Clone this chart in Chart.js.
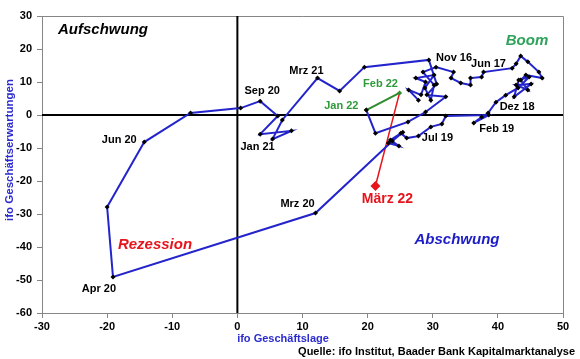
<!DOCTYPE html>
<html><head><meta charset="utf-8">
<script src="https://cdn.jsdelivr.net/npm/chart.js@4/dist/chart.umd.min.js"></script>
<style>html,body{margin:0;padding:0;background:#fff}#c{display:block}</style>
</head><body>
<canvas id="c" width="580" height="359"></canvas>
<script>
// ---- data (ifo Geschäftslage = x, ifo Geschäftserwartungen = y) ----
const months = [
 "Jan 16","Feb 16","Mrz 16","Apr 16","Mai 16","Jun 16","Jul 16","Aug 16","Sep 16","Okt 16","Nov 16","Dez 16",
 "Jan 17","Feb 17","Mrz 17","Apr 17","Mai 17","Jun 17","Jul 17","Aug 17","Sep 17","Okt 17","Nov 17","Dez 17",
 "Jan 18","Feb 18","Mrz 18","Apr 18","Mai 18","Jun 18","Jul 18","Aug 18","Sep 18","Okt 18","Nov 18","Dez 18",
 "Jan 19","Feb 19","Mrz 19","Apr 19","Mai 19","Jun 19","Jul 19","Aug 19","Sep 19","Okt 19","Nov 19","Dez 19",
 "Jan 20","Feb 20","Mrz 20","Apr 20","Mai 20","Jun 20","Jul 20","Aug 20","Sep 20","Okt 20","Nov 20","Dez 20",
 "Jan 21","Feb 21","Mrz 21","Apr 21","Mai 21","Jun 21","Jul 21","Aug 21","Sep 21","Okt 21","Nov 21","Dez 21",
 "Jan 22"
];
const lage = [
 27.8,26.3,28.2,28.9,27.4,30.2,28.8,29.7,30.2,28.5,30.5,33.2,
 32.8,34.3,35.8,35.8,37.5,37.8,42.2,42.8,43.5,44.6,46.3,46.8,
 44.3,43.5,44.6,42.8,45.1,42.5,43.2,44.8,43.1,41.2,39.7,38.5,
 37.5,36.3,38.6,32.0,31.4,29.7,27.8,26.0,25.1,23.2,24.8,23.5,
 25.4,23.8,12.0,-19.1,-20.0,-14.3,-7.2,0.5,3.5,6.2,3.5,8.3,
 5.4,6.9,12.3,15.7,19.5,29.4,30.6,29.1,32.0,28.9,26.2,21.2,
 19.8
];
const erwartungen = [
 4.5,7.6,6.1,10.0,11.2,12.1,8.2,4.5,9.1,13.0,14.5,13.0,
 11.2,9.7,9.1,11.2,11.5,13.0,14.2,15.5,17.9,16.1,13.0,11.2,
 12.1,10.6,7.6,9.1,9.4,5.5,10.6,11.5,8.2,6.0,3.9,0.6,
 -0.6,-2.4,0.0,-0.3,-2.7,-3.6,-6.4,-7.0,-5.5,-8.5,-9.4,-7.6,
 -5.2,-7.9,-29.7,-49.1,-27.9,-8.2,0.6,2.1,4.2,-0.3,-5.8,-4.8,
 -7.3,-1.5,11.2,7.3,14.5,16.7,9.4,6.1,5.5,0.9,-2.1,-5.5,
 1.5
];
const greenMonths = ["Jan 22","Feb 22"];
const greenLage = [19.8, 24.9];
const greenErw = [1.5, 6.7];
const redMonths = ["Feb 22","März 22"];
const redLage = [24.9, 21.2];
const redErw = [6.7, -21.5];
const labelledMonths = ["Nov 16","Jun 17","Dez 18","Feb 19","Jul 19","Mrz 20","Apr 20","Jun 20","Sep 20","Jan 21","Mrz 21"];
const xTicks = [-30,-20,-10,0,10,20,30,40,50];
const yTicks = [30,20,10,0,-10,-20,-30,-40,-50,-60];
const quadrantLabels = ["Aufschwung","Boom","Rezession","Abschwung"];
const xTitle = "ifo Geschäftslage";
const yTitle = "ifo Geschäftserwartungen";
const sourceText = "Quelle: ifo Institut, Baader Bank Kapitalmarktanalyse";

const FONT = '"Liberation Sans", Arial, sans-serif';
const BLUE = '#2424cc';
const GREEN_LINE = '#2e8b2e';
const GREEN_TXT = '#2f9a3a';
const RED = '#e8141c';

const toPts = (xs, ys) => xs.map((x, i) => ({x: x, y: ys[i]}));

// label placement (pixel offset from the data point)
const labelOffsets = {
  "Nov 16":[18,-9], "Jun 17":[5,-8], "Dez 18":[29,-6], "Feb 19":[23,6], "Jul 19":[19,2],
  "Mrz 20":[-18,-9], "Apr 20":[-14,12], "Jun 20":[-25,-2], "Sep 20":[2,-10], "Jan 21":[-15,8],
  "Mrz 21":[-11,-7]
};

const decorPlugin = {
  id: 'decor',
  beforeDatasetsDraw(chart) {
    const {ctx, chartArea: a, scales: {x, y}} = chart;
    ctx.save();
    // frame top/right
    ctx.strokeStyle = '#868686'; ctx.lineWidth = 1;
    ctx.beginPath();
    ctx.moveTo(a.left, a.top + 0.5); ctx.lineTo(a.right + 0.5, a.top + 0.5);
    ctx.lineTo(a.right + 0.5, a.bottom);
    ctx.stroke();
    // zero lines
    ctx.strokeStyle = '#000'; ctx.lineWidth = 2;
    const x0 = x.getPixelForValue(0), y0 = y.getPixelForValue(0);
    ctx.beginPath();
    ctx.moveTo(x0, a.top); ctx.lineTo(x0, a.bottom);
    ctx.moveTo(a.left, y0); ctx.lineTo(a.right, y0);
    ctx.stroke();
    ctx.restore();
  },
  afterDatasetsDraw(chart) {
    const {ctx} = chart;
    ctx.save();
    ctx.textAlign = 'center'; ctx.textBaseline = 'middle';
    // point labels on the blue path
    const meta = chart.getDatasetMeta(0);
    ctx.font = 'bold 11px ' + FONT; ctx.fillStyle = '#000';
    labelledMonths.forEach(m => {
      const i = months.indexOf(m);
      const el = meta.data[i];
      const o = labelOffsets[m];
      ctx.fillText(m, el.x + o[0], el.y + o[1]);
    });
    // green labels
    const gm = chart.getDatasetMeta(1);
    ctx.fillStyle = GREEN_TXT;
    ctx.fillText(greenMonths[0], gm.data[0].x - 25, gm.data[0].y - 4);
    ctx.fillText(greenMonths[1], gm.data[1].x - 19, gm.data[1].y - 9);
    // red label
    const rm = chart.getDatasetMeta(2);
    ctx.fillStyle = RED; ctx.font = 'bold 14px ' + FONT;
    ctx.fillText(redMonths[1], rm.data[1].x + 12, rm.data[1].y + 13);
    // quadrant labels
    ctx.font = 'italic bold 15px ' + FONT;
    ctx.fillStyle = '#000'; ctx.fillText(quadrantLabels[0], 103, 30);
    ctx.fillStyle = '#2ea35a'; ctx.fillText(quadrantLabels[1], 527, 41);
    ctx.fillStyle = RED; ctx.fillText(quadrantLabels[2], 155, 245);
    ctx.fillStyle = '#1c1cc8'; ctx.fillText(quadrantLabels[3], 457, 240);
    // axis titles
    ctx.fillStyle = '#2b2bd0';
    ctx.font = 'bold 11px ' + FONT;
    ctx.fillText(xTitle, 283, 339);
    ctx.save();
    ctx.translate(10, 150); ctx.rotate(-Math.PI / 2);
    ctx.font = 'bold 11.5px ' + FONT;
    ctx.fillText(yTitle, 0, 0);
    ctx.restore();
    // source
    ctx.fillStyle = '#000'; ctx.font = 'bold 11px ' + FONT;
    ctx.textAlign = 'right';
    ctx.fillText(sourceText, 575, 352);
    ctx.restore();
  }
};

new Chart(document.getElementById('c'), {
  type: 'scatter',
  data: {
    datasets: [
      { data: toPts(lage, erwartungen), showLine: true, borderColor: BLUE, borderWidth: 2,
        pointStyle: 'rectRot', pointRadius: 2.5, pointBackgroundColor: '#000', pointBorderWidth: 0, tension: 0 },
      { data: toPts(greenLage, greenErw), showLine: true, borderColor: GREEN_LINE, borderWidth: 2,
        pointStyle: 'rectRot', pointRadius: 2.5, pointBackgroundColor: GREEN_LINE, pointBorderWidth: 0, tension: 0 },
      { data: toPts(redLage, redErw), showLine: true, borderColor: RED, borderWidth: 1.5,
        pointStyle: 'rectRot', pointRadius: [0, 5], pointBackgroundColor: RED, pointBorderWidth: 0, tension: 0 }
    ]
  },
  options: {
    responsive: false, animation: false, devicePixelRatio: 1,
    layout: { padding: { left: 0, right: 17, top: 16, bottom: 0 } },
    plugins: { legend: { display: false }, tooltip: { enabled: false } },
    scales: {
      x: {
        type: 'linear', min: -30, max: 50,
        afterBuildTicks: s => { s.ticks = xTicks.map(v => ({value: v})); },
        afterFit: s => { s.height = 46; },
        grid: { drawOnChartArea: false, drawTicks: true, tickLength: 5, color: '#868686' },
        border: { color: '#868686', width: 1 },
        ticks: { color: '#000', font: { family: FONT, size: 11, weight: 'bold' }, padding: 2, maxRotation: 0 }
      },
      y: {
        type: 'linear', min: -60, max: 30,
        afterBuildTicks: s => { s.ticks = yTicks.map(v => ({value: v})); },
        afterFit: s => { s.width = 42; },
        grid: { drawOnChartArea: false, drawTicks: true, tickLength: 5, color: '#868686' },
        border: { color: '#868686', width: 1 },
        ticks: { color: '#000', font: { family: FONT, size: 11, weight: 'bold' }, padding: 5 }
      }
    }
  },
  plugins: [decorPlugin]
});
</script>
</body></html>
